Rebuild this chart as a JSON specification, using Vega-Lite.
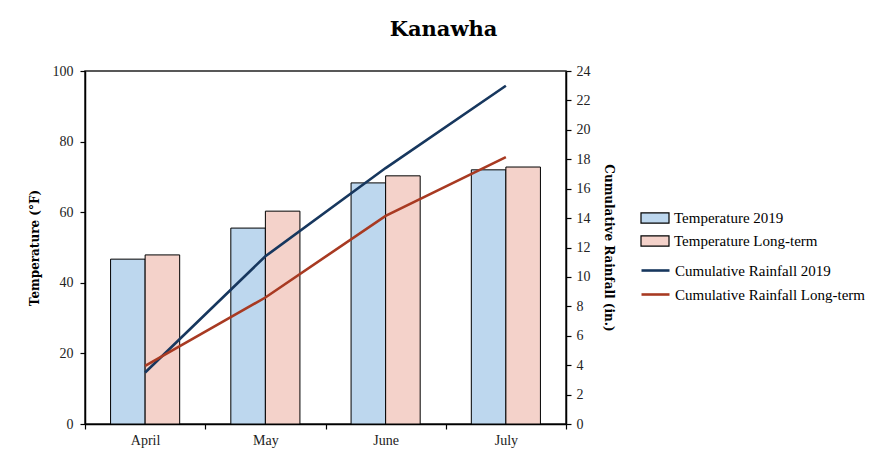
{
  "$schema": "https://vega.github.io/schema/vega-lite/v6.json",
  "width": 481,
  "height": 353,
  "autosize": {"type": "none"},
  "padding": {"left": 85, "top": 71, "right": 308, "bottom": 33},
  "background": "white",
  "title": {
    "text": "Kanawha",
    "font": "DejaVu Serif",
    "fontSize": 21,
    "fontWeight": "bold",
    "color": "#000",
    "anchor": "middle",
    "frame": "group",
    "dx": 118,
    "offset": 24
  },
  "datasets": {
    "temps": [
      {"month": "April", "series": "Temperature 2019", "temp": 46.7},
      {"month": "April", "series": "Temperature Long-term", "temp": 47.9},
      {"month": "May", "series": "Temperature 2019", "temp": 55.5},
      {"month": "May", "series": "Temperature Long-term", "temp": 60.3},
      {"month": "June", "series": "Temperature 2019", "temp": 68.3},
      {"month": "June", "series": "Temperature Long-term", "temp": 70.3},
      {"month": "July", "series": "Temperature 2019", "temp": 72.0},
      {"month": "July", "series": "Temperature Long-term", "temp": 72.8}
    ],
    "rain": [
      {"month": "April", "series": "Cumulative Rainfall 2019", "rain": 3.5},
      {"month": "May", "series": "Cumulative Rainfall 2019", "rain": 11.4},
      {"month": "June", "series": "Cumulative Rainfall 2019", "rain": 17.4},
      {"month": "July", "series": "Cumulative Rainfall 2019", "rain": 23.0},
      {"month": "April", "series": "Cumulative Rainfall Long-term", "rain": 3.95},
      {"month": "May", "series": "Cumulative Rainfall Long-term", "rain": 8.6},
      {"month": "June", "series": "Cumulative Rainfall Long-term", "rain": 14.15},
      {"month": "July", "series": "Cumulative Rainfall Long-term", "rain": 18.15}
    ]
  },
  "layer": [
    {
      "data": {"name": "temps"},
      "mark": {"type": "bar", "stroke": "#000", "strokeWidth": 1},
      "encoding": {
        "x": {
          "field": "month",
          "type": "nominal",
          "sort": ["April", "May", "June", "July"],
          "scale": {"paddingInner": 0, "paddingOuter": 0},
          "axis": {
            "title": null,
            "labelAngle": 0,
            "tickBand": "extent",
            "tickSize": 5,
            "labelPadding": 4
          }
        },
        "xOffset": {
          "field": "series",
          "type": "nominal",
          "sort": ["Temperature 2019", "Temperature Long-term"],
          "scale": {"paddingInner": 0, "paddingOuter": 0.74}
        },
        "y": {
          "field": "temp",
          "type": "quantitative",
          "scale": {"domain": [0, 100], "nice": false},
          "axis": {
            "title": "Temperature (°F)",
            "values": [0, 20, 40, 60, 80, 100],
            "grid": false,
            "orient": "left",
            "labelPadding": 7,
            "titlePadding": 11
          }
        },
        "fill": {
          "field": "series",
          "type": "nominal",
          "sort": ["Temperature 2019", "Temperature Long-term"],
          "scale": {
            "domain": ["Temperature 2019", "Temperature Long-term"],
            "range": ["#BDD7EE", "#F4D2CA"]
          },
          "legend": {
            "title": null,
            "orient": "none",
            "legendX": 555,
            "legendY": 132,
            "symbolType": "M-1,-0.36H1V0.36H-1Z",
            "symbolSize": 784,
            "symbolStrokeColor": "#000",
            "symbolStrokeWidth": 1.2,
            "labelOffset": 4,
            "rowPadding": -2
          }
        }
      }
    },
    {
      "data": {"name": "rain"},
      "mark": {"type": "line", "strokeWidth": 2.6},
      "encoding": {
        "x": {
          "field": "month",
          "type": "nominal",
          "sort": ["April", "May", "June", "July"]
        },
        "y": {
          "field": "rain",
          "type": "quantitative",
          "scale": {"domain": [0, 24], "nice": false},
          "axis": {
            "title": "Cumulative Rainfall (in.)",
            "orient": "right",
            "values": [0, 2, 4, 6, 8, 10, 12, 14, 16, 18, 20, 22, 24],
            "grid": false,
            "labelPadding": 5,
            "titlePadding": 11
          }
        },
        "stroke": {
          "field": "series",
          "type": "nominal",
          "sort": ["Cumulative Rainfall 2019", "Cumulative Rainfall Long-term"],
          "scale": {
            "domain": ["Cumulative Rainfall 2019", "Cumulative Rainfall Long-term"],
            "range": ["#17375E", "#A83A22"]
          },
          "legend": {
            "title": null,
            "orient": "none",
            "legendX": 555,
            "legendY": 184,
            "symbolType": "stroke",
            "symbolSize": 784,
            "symbolStrokeWidth": 2.6,
            "labelOffset": 4,
            "rowPadding": -1
          }
        }
      }
    }
  ],
  "resolve": {"scale": {"y": "independent"}},
  "config": {
    "view": {"stroke": "#222", "strokeWidth": 1.5},
    "axis": {
      "domainColor": "#000",
      "domainWidth": 1.5,
      "tickColor": "#000",
      "tickWidth": 1.2,
      "tickSize": 5,
      "labelFont": "Liberation Serif",
      "labelFontSize": 14,
      "labelColor": "#222",
      "titleFont": "DejaVu Serif",
      "titleFontSize": 12,
      "titleFontWeight": "bold",
      "titleColor": "#000"
    },
    "legend": {
      "labelFont": "Liberation Serif",
      "labelFontSize": 15,
      "labelColor": "#000",
      "labelLimit": 300
    }
  }
}
